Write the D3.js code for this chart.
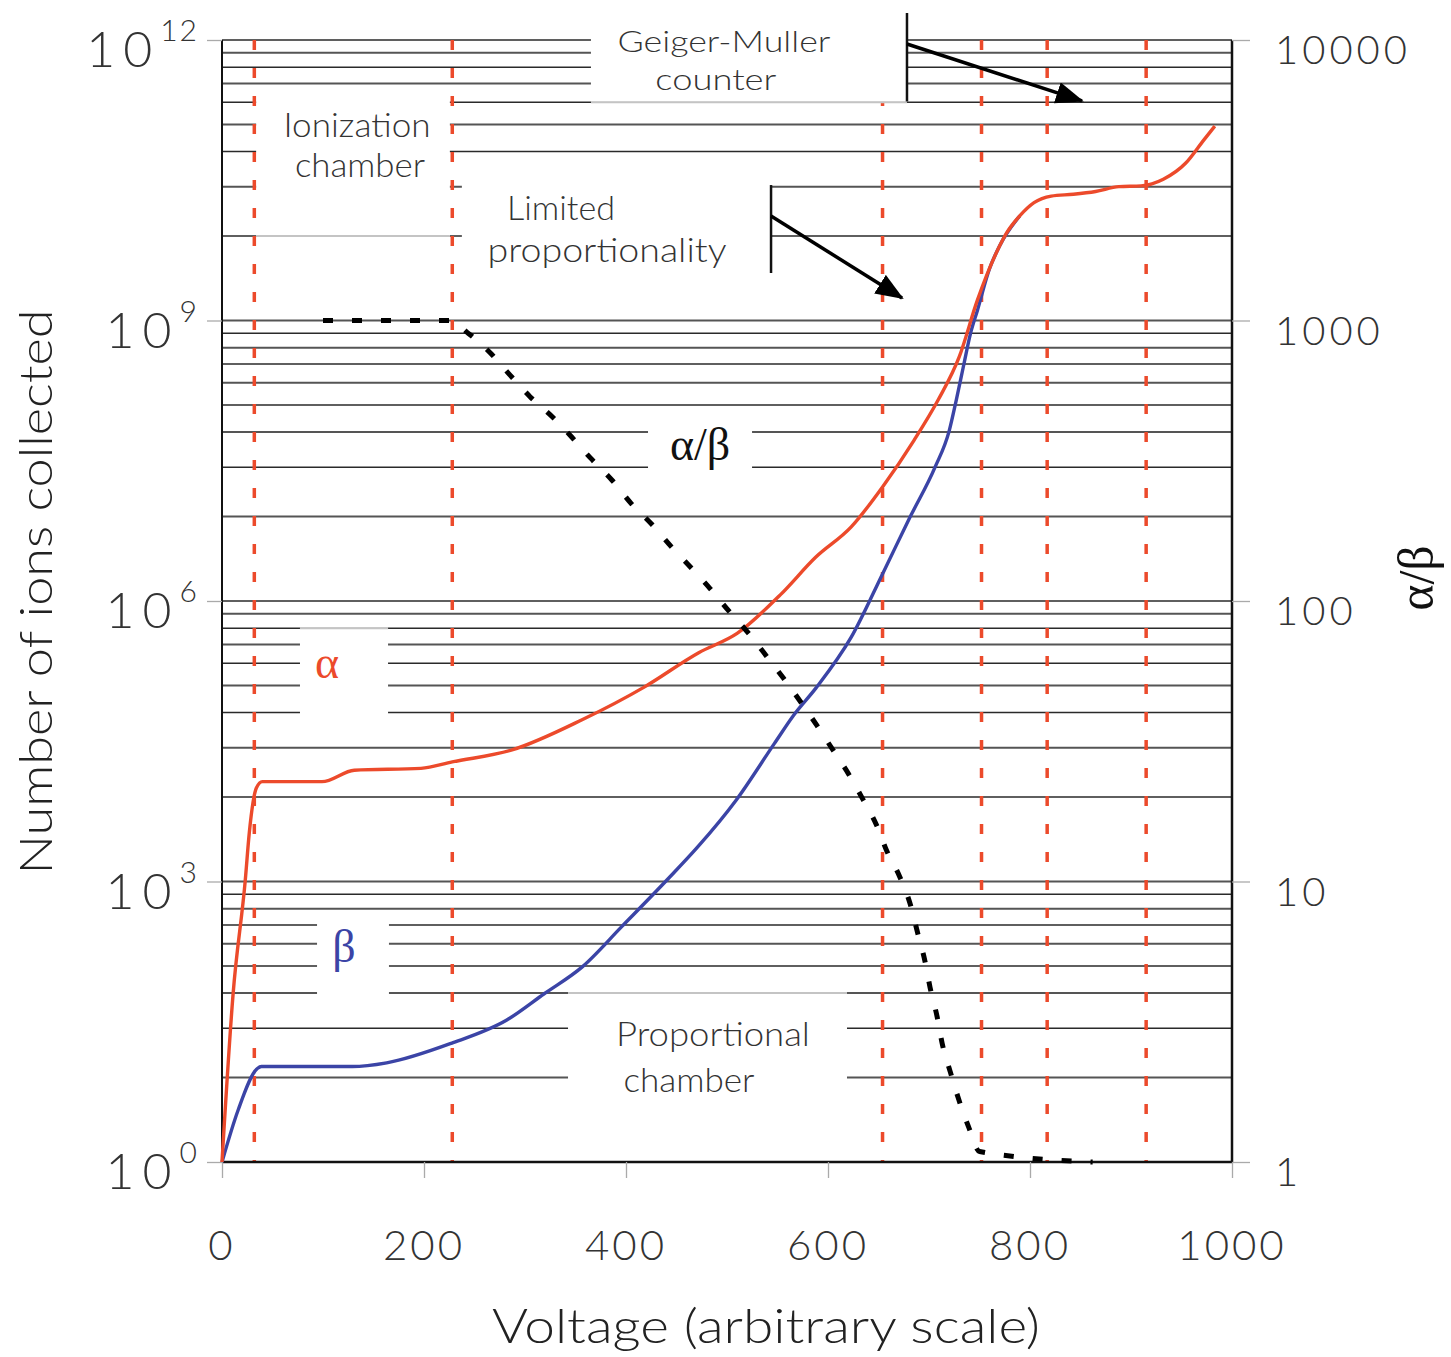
<!DOCTYPE html>
<html><head><meta charset="utf-8">
<script src="https://cdn.jsdelivr.net/npm/d3@7"></script>
<style>body{margin:0;background:#fff}</style>
</head><body>
<svg id="c" width="1451" height="1357"></svg>
<script>
// ---------------- data ----------------
const voltageTicks = [0, 200, 400, 600, 800, 1000];
const ionTicks = [1, 1e3, 1e6, 1e9, 1e12];
const ionTickExp = ["0", "3", "6", "9", "12"];
const ratioTicks = [1, 10, 100, 1000, 10000];
const ratioTickLabels = ["1", "10", "100", "1000", "10000"];
const regionBounds = [32, 228, 654, 752, 817, 915];

const alphaV = [0, 11, 23, 27, 34, 40, 99, 131, 197, 228, 288, 357, 418, 472, 510, 553, 588, 623, 654, 685, 709, 730, 748, 770, 777, 790, 804, 821, 843, 865, 888, 910, 932, 954, 972, 983];
const alphaN = [1, 63, 1020, 3300, 1.0e4, 1.17e4, 1.17e4, 1.55e4, 1.62e4, 1.9e4, 2.57e4, 5.4e4, 1.2e5, 2.8e5, 4.5e5, 1.17e6, 2.95e6, 6.2e6, 1.66e7, 5.2e7, 1.41e8, 4.1e8, 1.66e9, 6.3e9, 8.7e9, 1.32e10, 1.82e10, 2.14e10, 2.24e10, 2.4e10, 2.7e10, 2.75e10, 3.24e10, 4.8e10, 8.5e10, 1.2e11];

const betaV = [0, 16, 35, 39, 129, 163, 227, 282, 319, 357, 396, 441, 471, 509, 547, 566, 588, 623, 654, 681, 706, 720, 727, 734, 741, 748, 760, 770, 790];
const betaN = [1, 3.6, 10, 10.5, 10.5, 11.5, 18.6, 33, 63, 123, 331, 1050, 2340, 7400, 3.0e4, 6.0e4, 1.17e5, 4.1e5, 1.95e6, 7.8e6, 2.7e7, 6.6e7, 1.41e8, 3.2e8, 7.2e8, 1.29e9, 3.6e9, 6.3e9, 1.32e10];

const ratioV = [100, 225, 244, 266, 285, 305, 327, 346, 365, 386, 405, 426, 445, 464, 483, 502, 521, 540, 556, 589, 605, 620, 635, 648, 658, 671, 681, 689, 696, 701, 708, 713, 721, 729, 739, 750, 862];
const ratioR = [1000, 1000, 899, 764, 640, 535, 454, 385, 323, 270, 223, 187, 156, 132, 111, 92, 77, 63, 53, 36, 29.4, 24.3, 19.5, 15.9, 12.9, 10.4, 8.4, 6.5, 5.2, 4.2, 3.3, 2.65, 2.1, 1.69, 1.34, 1.09, 1];

// ---------------- setup ----------------
const FONT = "Lato, 'Open Sans', 'DejaVu Sans', sans-serif";
const SERIF = "'Liberation Serif', 'DejaVu Serif', serif";
const svg = d3.select("#c");
const x = d3.scaleLinear().domain([0, 1000]).range([222, 1232]);
const yL = d3.scaleLog().domain([1, 1e12]).range([1162, 40]);
const yR = d3.scaleLog().domain([1, 1e4]).range([1162, 40]);

const RED = "#ec4a2b", BLUE = "#3b44a6";

// grid lines (minor log ticks of right axis)
const gridVals = yR.ticks();
svg.append("g").selectAll("line").data(gridVals).join("line")
  .attr("x1", x(0)).attr("x2", x(1000))
  .attr("y1", d => yR(d)).attr("y2", d => yR(d))
  .attr("stroke", (d, i) => i % 2 ? "#555" : "#2a2a2a")
  .attr("stroke-width", (d, i) => i % 2 ? 2 : 1.5);

// annotation boxes (data coordinates: voltage, alpha/beta ratio)
const boxes = [
  {v0: 33.8, v1: 225.6, r0: 6500, r1: 1990, edge: 2000, late: false},
  {v0: 237.5, v1: 543.6, r0: 3700, r1: 1150, edge: null, late: false},
  {v0: 365.3, v1: 678.2, r0: 14000, r1: 6020, edge: 6000, late: true},
  {v0: 421.8, v1: 524.8, r0: 480, r1: 250, edge: null, late: false},
  {v0: 77.2, v1: 164.4, r0: 80.5, r1: 38, edge: 80, late: false},
  {v0: 94.1, v1: 165.3, r0: 7.6, r1: 3.85, edge: null, late: false},
  {v0: 342.6, v1: 618.8, r0: 4.03, r1: 1.5, edge: 4, late: false}
];
function drawBoxes(list) {
  const g = svg.append("g");
  list.forEach(b => {
    g.append("rect").attr("x", x(b.v0)).attr("width", x(b.v1) - x(b.v0))
      .attr("y", yR(b.r0)).attr("height", yR(b.r1) - yR(b.r0)).attr("fill", "#fff");
    if (b.edge !== null) {
      g.append("line").attr("x1", x(b.v0)).attr("x2", x(b.v1))
        .attr("y1", yR(b.edge)).attr("y2", yR(b.edge))
        .attr("stroke", "#c4c4c4").attr("stroke-width", 2);
    }
  });
}
drawBoxes(boxes.filter(b => !b.late));

// vertical red dotted region boundaries
svg.append("g").selectAll("line").data(regionBounds).join("line")
  .attr("x1", d => x(d)).attr("x2", d => x(d))
  .attr("y1", yR(1e4)).attr("y2", yR(1))
  .attr("stroke", RED).attr("stroke-width", 3.5)
  .attr("stroke-dasharray", "10,18");

drawBoxes(boxes.filter(b => b.late));

// frame
svg.append("line").attr("x1", x(0)).attr("x2", x(0)).attr("y1", yR(1e4)).attr("y2", yR(1)).attr("stroke", "#111").attr("stroke-width", 2);
svg.append("line").attr("x1", x(1000)).attr("x2", x(1000)).attr("y1", yR(1e4)).attr("y2", yR(1)).attr("stroke", "#111").attr("stroke-width", 2.5);
svg.append("line").attr("x1", x(0)).attr("x2", x(1000)).attr("y1", yR(1)).attr("y2", yR(1)).attr("stroke", "#111").attr("stroke-width", 2.5);

// axes (ticks only)
function styleAxis(g) {
  g.select(".domain").remove();
  g.selectAll(".tick line").attr("stroke", "#aaa").attr("stroke-width", 1.3);
  g.selectAll(".tick text").remove();
}
svg.append("g").attr("transform", `translate(${x(0)},0)`)
  .call(d3.axisLeft(yL).tickValues(ionTicks).tickSize(15).tickFormat("")).call(styleAxis);
svg.append("g").attr("transform", `translate(${x(1000)},0)`)
  .call(d3.axisRight(yR).tickValues(ratioTicks).tickSize(18).tickFormat("")).call(styleAxis);
svg.append("g").attr("transform", `translate(0,${yR(1)})`)
  .call(d3.axisBottom(x).tickValues(voltageTicks).tickSize(16).tickFormat("")).call(styleAxis);

// left tick labels 10^n
const lt = svg.append("g").attr("font-family", FONT).attr("font-weight", 300).attr("fill", "#333");
ionTicks.forEach((v, i) => {
  const t = lt.append("text").attr("x", 199).attr("y", yL(v) + 27).attr("text-anchor", "end");
  t.append("tspan").attr("font-size", 50).attr("letter-spacing", 8).text("10");
  t.append("tspan").attr("font-size", 30).attr("dy", -26).attr("letter-spacing", 2).text(ionTickExp[i]);
});

// right tick labels
svg.append("g").selectAll("text").data(ratioTicks).join("text")
  .attr("x", 1275).attr("y", d => yR(d) + 24)
  .attr("font-family", FONT).attr("font-weight", 300).attr("font-size", 40)
  .attr("letter-spacing", 4).attr("fill", "#333")
  .text((d, i) => ratioTickLabels[i]);

// bottom tick labels
svg.append("g").selectAll("text").data(voltageTicks).join("text")
  .attr("x", d => x(d)).attr("y", 1260).attr("text-anchor", "middle")
  .attr("font-family", FONT).attr("font-weight", 300).attr("font-size", 42)
  .attr("letter-spacing", 3).attr("fill", "#333")
  .text(d => d);

// axis titles
svg.append("text").attr("x", 766).attr("y", 1343).attr("text-anchor", "middle")
  .attr("font-family", FONT).attr("font-weight", 300).attr("font-size", 48).attr("fill", "#222")
  .attr("textLength", 548).attr("lengthAdjust", "spacingAndGlyphs")
  .text("Voltage (arbitrary scale)");
svg.append("text").attr("transform", "translate(52,592) rotate(-90)").attr("text-anchor", "middle")
  .attr("font-family", FONT).attr("font-weight", 300).attr("font-size", 46).attr("fill", "#222")
  .attr("textLength", 565).attr("lengthAdjust", "spacingAndGlyphs")
  .text("Number of ions collected");
svg.append("text").attr("transform", "translate(1433,578) rotate(-90)").attr("text-anchor", "middle")
  .attr("font-family", SERIF).attr("font-size", 50).attr("fill", "#111")
  .text("α/β");

// curves
const lineN = (vs, ns) => d3.line().curve(d3.curveMonotoneX)
  .x((d, i) => x(vs[i])).y((d, i) => yL(ns[i]))(vs);
svg.append("path").attr("d", lineN(betaV, betaN)).attr("fill", "none")
  .attr("stroke", BLUE).attr("stroke-width", 3.4);
svg.append("path").attr("d", lineN(alphaV, alphaN)).attr("fill", "none")
  .attr("stroke", RED).attr("stroke-width", 3.4);
const ratioLine = d3.line().curve(d3.curveMonotoneX)
  .x((d, i) => x(ratioV[i])).y((d, i) => yR(ratioR[i]));
svg.append("path").attr("d", ratioLine(ratioV)).attr("fill", "none")
  .attr("stroke", "#000").attr("stroke-width", 5).attr("stroke-dasharray", "10,19");

// annotation texts (anchored in data coordinates)
const notes = [
  {t: "Ionization", v: 133.7, r: 4510, len: 147, fs: 33},
  {t: "chamber", v: 136.6, r: 3250, len: 130, fs: 33},
  {t: "Geiger-Muller", v: 497, r: 9063, len: 213, fs: 30},
  {t: "counter", v: 489, r: 6632, len: 121, fs: 30},
  {t: "Limited", v: 335.6, r: 2280, len: 108, fs: 33},
  {t: "proportionality", v: 381.2, r: 1617, len: 239, fs: 33},
  {t: "Proportional", v: 486.1, r: 2.59, len: 194, fs: 33},
  {t: "chamber", v: 462.4, r: 1.777, len: 131, fs: 33}
];
svg.append("g").selectAll("text").data(notes).join("text")
  .attr("x", d => x(d.v)).attr("y", d => yR(d.r)).attr("text-anchor", "middle")
  .attr("font-family", FONT).attr("font-weight", 300).attr("font-size", d => d.fs).attr("fill", "#333")
  .attr("textLength", d => d.len).attr("lengthAdjust", "spacingAndGlyphs")
  .text(d => d.t);

const greek = [
  {t: "α/β", v: 473.3, r: 318, c: "#111", size: 46},
  {t: "α", v: 104, r: 53, c: RED, size: 46},
  {t: "β", v: 120.8, r: 5.16, c: BLUE, size: 46}
];
svg.append("g").selectAll("text").data(greek).join("text")
  .attr("x", d => x(d.v)).attr("y", d => yR(d.r)).attr("text-anchor", "middle")
  .attr("font-family", SERIF).attr("font-size", d => d.size).attr("fill", d => d.c)
  .text(d => d.t);

// brackets and arrows
const defs = svg.append("defs");
defs.append("marker").attr("id", "ah").attr("markerUnits", "userSpaceOnUse")
  .attr("markerWidth", 28).attr("markerHeight", 22).attr("refX", 26).attr("refY", 11)
  .attr("orient", "auto")
  .append("path").attr("d", "M0,0 L28,11 L0,22 Z").attr("fill", "#000");

const brackets = [
  {v: 678.2, r0: 12480, r1: 6040},
  {v: 543.6, r0: 3040, r1: 1477}
];
svg.append("g").selectAll("line").data(brackets).join("line")
  .attr("x1", d => x(d.v)).attr("x2", d => x(d.v))
  .attr("y1", d => yR(d.r0)).attr("y2", d => yR(d.r1))
  .attr("stroke", "#111").attr("stroke-width", 2.5);

const arrows = [
  {v0: 678.2, r0: 9680, v1: 851.5, r1: 6065},
  {v0: 543.6, r0: 2358, v1: 673.3, r1: 1203}
];
svg.append("g").selectAll("line").data(arrows).join("line")
  .attr("x1", d => x(d.v0)).attr("y1", d => yR(d.r0))
  .attr("x2", d => x(d.v1)).attr("y2", d => yR(d.r1))
  .attr("stroke", "#000").attr("stroke-width", 3.5).attr("marker-end", "url(#ah)");
</script>
</body></html>
